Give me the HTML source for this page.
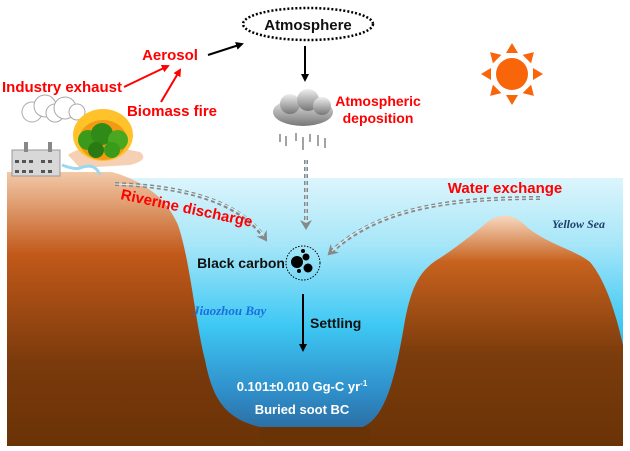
<!DOCTYPE html>
<html><head><meta charset="utf-8"><style>
html,body{margin:0;padding:0;background:#fff;width:630px;height:451px;overflow:hidden}
svg{display:block}
text{font-family:"Liberation Sans",sans-serif;font-weight:bold}
</style></head><body>
<svg width="630" height="451" viewBox="0 0 630 451" xmlns="http://www.w3.org/2000/svg">
<defs>
<linearGradient id="w" x1="0" y1="0" x2="0" y2="1">
<stop offset="0" stop-color="#dcf5fc"/><stop offset="0.25" stop-color="#a6e6f8"/>
<stop offset="0.55" stop-color="#3ec8f4"/><stop offset="0.8" stop-color="#2f8ec9"/><stop offset="1" stop-color="#2a5f92"/>
</linearGradient>
<linearGradient id="b" x1="0" y1="0" x2="0" y2="1">
<stop offset="0" stop-color="#f3c9a8"/><stop offset="0.3" stop-color="#c2591a"/><stop offset="0.7" stop-color="#7a3a0c"/><stop offset="1" stop-color="#6a3306"/>
</linearGradient>
<linearGradient id="rb" x1="0" y1="0" x2="0" y2="1">
<stop offset="0" stop-color="#f7d8c0"/><stop offset="0.2" stop-color="#c8621e"/><stop offset="0.6" stop-color="#7c3c0c"/><stop offset="1" stop-color="#6a3306"/>
</linearGradient>
<linearGradient id="cl" x1="0" y1="0" x2="0" y2="1"><stop offset="0" stop-color="#eee"/><stop offset="1" stop-color="#777"/></linearGradient>
<marker id="ab" markerWidth="8" markerHeight="8" refX="6" refY="4" orient="auto" markerUnits="userSpaceOnUse"><path d="M0,0 L8,4 L0,8 Z" fill="#000"/></marker>
<marker id="ar" markerWidth="8" markerHeight="8" refX="6" refY="4" orient="auto" markerUnits="userSpaceOnUse"><path d="M0,0 L8,4 L0,8 Z" fill="#f00"/></marker>
<marker id="ag" markerWidth="12" markerHeight="12" refX="8" refY="6" orient="auto" markerUnits="userSpaceOnUse"><path d="M0,0 L10,6 L0,12 L3,6 Z" fill="#888"/></marker>
</defs>
<rect x="7" y="178" width="616" height="268" fill="url(#w)"/>
<path d="M7,172 L112,172 C140,180 165,195 178,225 C190,260 195,320 205,360 C212,395 222,418 260,427 L290,430 L290,446 L7,446 Z" fill="url(#b)"/>
<path d="M360,428 C385,420 395,380 405,320 C412,285 420,270 440,258 C460,245 478,230 490,220 C505,212 515,215 528,228 C550,245 575,250 590,262 C605,280 615,310 623,345 L623,446 L360,446 Z" fill="url(#rb)"/>
<rect x="260" y="427" width="110" height="19" fill="#6a3306"/>
<path d="M68,155 Q80,145 120,148 L140,152 Q150,160 130,165 L80,168 Z" fill="#f5d0b5"/>
<path d="M62,165 Q75,170 80,168 Q95,162 100,175" stroke="#9bd8f0" stroke-width="3" fill="none"/>
<rect x="12" y="150" width="48" height="26" fill="#d8d8d8" stroke="#999"/>
<g fill="#555"><rect x="15" y="160" width="4" height="3"/><rect x="22" y="160" width="4" height="3"/><rect x="29" y="160" width="4" height="3"/><rect x="41" y="160" width="4" height="3"/><rect x="48" y="160" width="4" height="3"/><rect x="15" y="170" width="4" height="3"/><rect x="22" y="170" width="4" height="3"/><rect x="29" y="170" width="4" height="3"/><rect x="41" y="170" width="4" height="3"/><rect x="48" y="170" width="4" height="3"/></g>
<rect x="24" y="142" width="4" height="10" fill="#888"/><rect x="48" y="142" width="4" height="10" fill="#888"/>
<g fill="#fff" stroke="#aaa"><circle cx="32" cy="112" r="10"/><circle cx="45" cy="106" r="11"/><circle cx="55" cy="113" r="9"/><circle cx="65" cy="108" r="11"/><circle cx="77" cy="112" r="8"/></g>
<ellipse cx="103" cy="135" rx="30" ry="26" fill="#ffc22a"/>
<ellipse cx="103" cy="140" rx="24" ry="20" fill="#f29a12"/>
<circle cx="88" cy="140" r="10" fill="#3a9a1a"/><circle cx="102" cy="134" r="11" fill="#2f8a18"/><circle cx="118" cy="140" r="10" fill="#4aa820"/><circle cx="96" cy="150" r="8" fill="#2a7a14"/><circle cx="112" cy="150" r="8" fill="#3a9a1a"/>
<g fill="#f9660a" transform="translate(512,74)">
<circle r="16"/>
<g id="ray"><path d="M-6,-21 L0,-31 L6,-21 Z"/></g>
<use href="#ray" transform="rotate(45)"/><use href="#ray" transform="rotate(90)"/><use href="#ray" transform="rotate(135)"/><use href="#ray" transform="rotate(180)"/><use href="#ray" transform="rotate(225)"/><use href="#ray" transform="rotate(270)"/><use href="#ray" transform="rotate(315)"/>
</g>
<ellipse cx="308" cy="24" rx="65" ry="16" fill="none" stroke="#000" stroke-width="2.5" stroke-dasharray="2,2"/>
<text x="308" y="30" text-anchor="middle" font-size="15" fill="#111">Atmosphere</text>
<line x1="305" y1="46" x2="305" y2="80" stroke="#000" stroke-width="2" marker-end="url(#ab)"/>
<line x1="208" y1="55" x2="242" y2="44" stroke="#000" stroke-width="2" marker-end="url(#ab)"/>
<text x="170" y="60" text-anchor="middle" font-size="15" fill="#f00">Aerosol</text>
<text x="62" y="92" text-anchor="middle" font-size="15" fill="#f00">Industry exhaust</text>
<text x="172" y="116" text-anchor="middle" font-size="15" fill="#f00">Biomass fire</text>
<line x1="124" y1="87" x2="168" y2="66" stroke="#f00" stroke-width="2" marker-end="url(#ar)"/>
<line x1="161" y1="102" x2="180" y2="70" stroke="#f00" stroke-width="2" marker-end="url(#ar)"/>
<g fill="url(#cl)"><ellipse cx="303" cy="112" rx="30" ry="14"/><circle cx="290" cy="104" r="10"/><circle cx="308" cy="100" r="11"/><circle cx="322" cy="106" r="9"/></g>
<g stroke="#666" stroke-width="1.2"><line x1="280" y1="134" x2="280" y2="142"/><line x1="286" y1="136" x2="286" y2="146"/><line x1="296" y1="133" x2="296" y2="141"/><line x1="303" y1="137" x2="303" y2="150"/><line x1="310" y1="134" x2="310" y2="142"/><line x1="318" y1="135" x2="318" y2="146"/><line x1="325" y1="138" x2="325" y2="148"/></g>
<text x="378" y="106" text-anchor="middle" font-size="14" fill="#f00">Atmospheric</text>
<text x="378" y="123" text-anchor="middle" font-size="14" fill="#f00">deposition</text>
<g fill="none" stroke="#888" stroke-width="4" stroke-dasharray="4,3">
<path d="M306,160 L306,228" marker-end="url(#ag)"/>
<path d="M115,184 C180,186 240,200 266,240" marker-end="url(#ag)"/>
<path d="M540,198 C460,198 380,205 329,254" marker-end="url(#ag)"/>
</g>
<g fill="none" stroke="#d6f3fb" stroke-width="1"><path d="M306,160 L306,222"/><path d="M115,184 C180,186 240,200 264,236"/><path d="M540,198 C460,198 380,205 332,251"/></g>
<text x="120" y="199" font-size="15" fill="#f00" transform="rotate(12 120 199)">Riverine discharge</text>
<text x="505" y="193" text-anchor="middle" font-size="15" fill="#f00">Water exchange</text>
<text x="605" y="228" text-anchor="end" font-size="12" fill="#1f3f6e" font-style="italic" style="font-family:'Liberation Serif',serif">Yellow Sea</text>
<text x="193" y="315" font-size="13" fill="#1a6fe0" font-style="italic" style="font-family:'Liberation Serif',serif">Jiaozhou Bay</text>
<circle cx="303" cy="263" r="17" fill="none" stroke="#000" stroke-width="1" stroke-dasharray="1.5,1.5"/>
<g fill="#000"><circle cx="297" cy="262" r="6"/><circle cx="306" cy="257" r="3.5"/><circle cx="308" cy="268" r="4.5"/><circle cx="299" cy="271" r="2"/><circle cx="303" cy="251" r="2"/></g>
<text x="285" y="268" text-anchor="end" font-size="14" fill="#111">Black carbon</text>
<line x1="303" y1="294" x2="303" y2="350" stroke="#000" stroke-width="2" marker-end="url(#ab)"/>
<text x="310" y="328" font-size="14" fill="#111">Settling</text>
<text x="302" y="391" text-anchor="middle" font-size="13" fill="#fff">0.101±0.010 Gg-C yr<tspan font-size="8" dy="-5">-1</tspan></text>
<text x="302" y="414" text-anchor="middle" font-size="13" fill="#fff">Buried soot BC</text>
</svg>
</body></html>
